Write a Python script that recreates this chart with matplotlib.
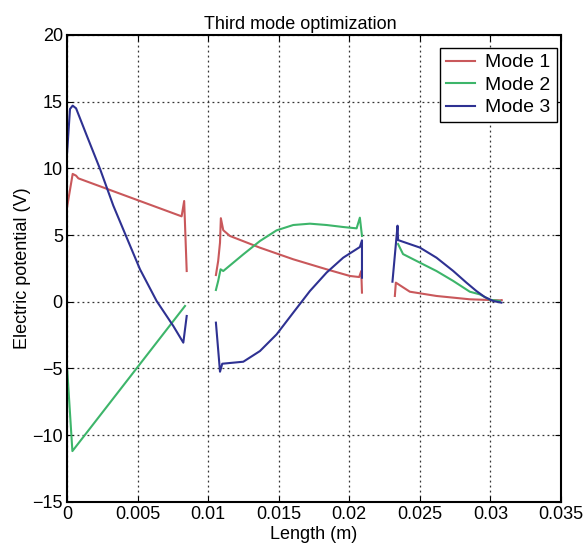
import numpy as np
import matplotlib
matplotlib.use('Agg')
import matplotlib.pyplot as plt

plt.rcParams['font.family'] = ['Liberation Sans', 'DejaVu Sans']
plt.rcParams['font.size'] = 13

# Segment 1 (x < 0.009)
x1_m1 = [0.0, 0.0004, 0.00064, 0.0008, 0.00812, 0.0083, 0.00848]
y1_m1 = [7.07, 9.58, 9.45, 9.25, 6.4, 7.55, 2.3]
x1_m2 = [0.00002, 0.00038, 0.00836]
y1_m2 = [-5.2, -11.2, -0.32]
x1_m3 = [0.0, 0.00021, 0.0004, 0.00064, 0.0014, 0.00234, 0.00328, 0.00423,
         0.00517, 0.00635, 0.00753, 0.00824, 0.00848]
y1_m3 = [11.1, 14.45, 14.7, 14.5, 12.45, 9.95, 7.2, 4.8,
         2.43, 0.05, -1.82, -3.07, -1.07]

# Segment 2 (0.0105 < x < 0.021)
x2_m1 = [0.01055, 0.01071, 0.01084, 0.0109, 0.01107, 0.01154, 0.01367, 0.01603,
         0.01839, 0.02004, 0.0207, 0.02085, 0.0209]
y2_m1 = [2.0, 3.05, 4.43, 6.26, 5.36, 4.93, 4.05, 3.18,
         2.43, 1.93, 1.85, 2.3, 0.68]
x2_m2 = [0.01055, 0.01071, 0.01088, 0.01107, 0.01249, 0.01367, 0.01485, 0.01603,
         0.01721, 0.01839, 0.01957, 0.02052, 0.02075, 0.0209]
y2_m2 = [0.88, 1.55, 2.43, 2.3, 3.55, 4.55, 5.35, 5.75,
         5.85, 5.75, 5.6, 5.5, 6.3, 4.93]
x2_m3 = [0.01055, 0.01084, 0.011, 0.01249, 0.01367, 0.01485, 0.01603, 0.01721,
         0.01839, 0.01957, 0.02075, 0.0209, 0.0209]
y2_m3 = [-1.57, -5.25, -4.65, -4.5, -3.7, -2.45, -0.82, 0.8,
         2.18, 3.3, 4.1, 4.6, 1.8]

# Segment 3 (x > 0.023)
x3_m1 = [0.02323, 0.0233, 0.02429, 0.02618, 0.02854, 0.03067, 0.0308]
y3_m1 = [0.43, 1.43, 0.75, 0.43, 0.18, 0.1, 0.12]
x3_m2 = [0.02346, 0.02381, 0.025, 0.02618, 0.02736, 0.02854, 0.02925, 0.02996, 0.03067]
y3_m2 = [4.32, 3.57, 2.93, 2.3, 1.56, 0.75, 0.55, 0.15, 0.05]
x3_m3 = [0.02306, 0.02342, 0.02346, 0.025, 0.02618, 0.02736, 0.0283, 0.02901,
         0.0296, 0.0302, 0.03078]
y3_m3 = [1.5, 5.7, 4.62, 4.06, 3.3, 2.31, 1.43, 0.8,
         0.35, 0.05, -0.07]

colors = ['#c9585b', '#3db56a', '#2e3192']
labels = ['Mode 1', 'Mode 2', 'Mode 3']
segments = [
    [(x1_m1, y1_m1), (x2_m1, y2_m1), (x3_m1, y3_m1)],
    [(x1_m2, y1_m2), (x2_m2, y2_m2), (x3_m2, y3_m2)],
    [(x1_m3, y1_m3), (x2_m3, y2_m3), (x3_m3, y3_m3)],
]

fig = plt.figure(figsize=(5.88, 5.46), dpi=100)
ax = fig.add_axes([0.114, 0.081, 0.840, 0.855])

for col, lab, segs in zip(colors, labels, segments):
    for i, (xs, ys) in enumerate(segs):
        ax.plot(xs, ys, '-', color=col, lw=1.5, label=lab if i == 0 else None)

ax.set_xlim(0, 0.035)
ax.set_ylim(-15, 20)
ax.set_xticks(np.arange(0, 0.0351, 0.005))
ax.set_xticklabels(['0', '0.005', '0.01', '0.015', '0.02', '0.025', '0.03', '0.035'])
ax.set_yticks(np.arange(-15, 21, 5))
ax.set_yticklabels(['\u221215', '\u221210', '\u22125', '0', '5', '10', '15', '20'])
ax.grid(True, color='#333333', linestyle=(0, (1.5, 2.5)), linewidth=0.9)
ax.tick_params(direction='in', top=True, right=True, length=4, labelsize=13, pad=3)
for sp in ax.spines.values():
    sp.set_linewidth(1.5)

ax.set_xlabel('Length (m)', fontsize=13, labelpad=2)
ax.set_ylabel('Electric potential (V)', fontsize=13, labelpad=1)
ax.set_title('Third mode optimization', fontsize=13, pad=4, x=0.472)

leg = ax.legend(loc='upper right', fancybox=False, edgecolor='k', framealpha=1,
                handlelength=1.5, borderpad=0.3, labelspacing=0.25, fontsize=14,
                bbox_to_anchor=(0.991, 0.972), borderaxespad=0, handletextpad=0.55)
leg.get_frame().set_linewidth(1.0)

fig.savefig('out.png', dpi=100)
